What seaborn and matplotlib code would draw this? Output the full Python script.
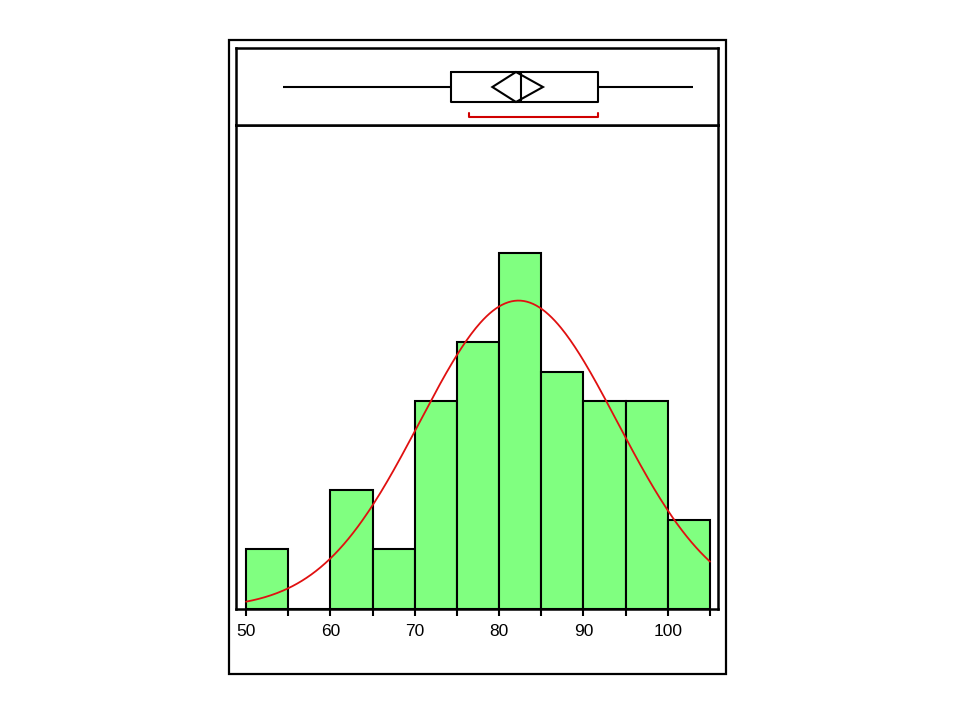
import numpy as np
import pandas as pd
import matplotlib
matplotlib.use("Agg")
import matplotlib.pyplot as plt
from matplotlib.patches import Rectangle, Polygon
import seaborn as sns

# ---- data ----
bin_edges = [50, 55, 60, 65, 70, 75, 80, 85, 90, 95, 100, 105]
bin_counts = [2, 0, 4, 2, 7, 9, 12, 8, 7, 7, 3]
tick_major = [50, 60, 70, 80, 90, 100]
tick_minor = [55, 65, 75, 85, 95, 105]

# five-number summary for the outlier box plot (min, q1, median, q3, max)
box_summary = [54.4, 74.3, 82.6, 91.7, 103.0]
mean_value = 82.0
mean_ci = [79.2, 85.2]
shortest_half = [76.4, 91.7]

# fitted normal curve parameters
fit_mean = 82.3
fit_sd = 11.7
n_obs = sum(bin_counts)
bin_width = 5

sns.set_style("white")
plt.rcParams["font.family"] = ["Liberation Sans", "DejaVu Sans"]

fig = plt.figure(figsize=(9.6, 7.2), dpi=100)

L, R = 236, 718
ax_h = fig.add_axes([L / 960, 1 - 608.5 / 720, (R - L) / 960, (608.5 - 125) / 720])
ax_b = fig.add_axes([L / 960, 1 - 125 / 720, (R - L) / 960, (125 - 48) / 720], sharex=ax_h)

# ---- histogram ----
mids = [(a + b) / 2 for a, b in zip(bin_edges[:-1], bin_edges[1:])]
df = pd.DataFrame({"x": mids, "w": bin_counts})
sns.histplot(data=df, x="x", weights="w", bins=bin_edges, color="#80FF80",
             alpha=1, edgecolor="black", linewidth=1.5, ax=ax_h)

xs = np.linspace(bin_edges[0], bin_edges[-1], 300)
ys = n_obs * bin_width / (fit_sd * np.sqrt(2 * np.pi)) * np.exp(-0.5 * ((xs - fit_mean) / fit_sd) ** 2)
sns.lineplot(x=xs, y=ys, color="#E01010", linewidth=1.3, ax=ax_h)

ax_h.set_xlim(48.81, 105.95)
ax_h.set_ylim(0, 16.33)
ax_h.set_xlabel("")
ax_h.set_ylabel("")
ax_h.set_yticks([])
ax_h.set_xticks(tick_major)
ax_h.set_xticks(tick_minor, minor=True)
ax_h.set_xticklabels([str(t) for t in tick_major], fontsize=12.5, color="black")
ax_h.tick_params(axis="x", which="both", direction="out", length=5, width=1.5,
                 color="black", pad=6, bottom=True, labelcolor="black")
for s in ax_h.spines.values():
    s.set_linewidth(1.8)
    s.set_color("black")

# ---- box plot ----
sns.boxplot(x=box_summary, whis=(0, 100), width=0.8, showcaps=False, fill=False,
            color="black", linewidth=1.5, ax=ax_b,
            flierprops=dict(marker=""))
dia = Polygon([(mean_ci[0], 0), (mean_value, -0.4), (mean_ci[1], 0), (mean_value, 0.4)],
              closed=True, fill=False, edgecolor="black", linewidth=1.5)
ax_b.add_patch(dia)
ax_b.plot([shortest_half[0], shortest_half[0], shortest_half[1], shortest_half[1]],
          [0.69, 0.8, 0.8, 0.69], color="#D00000", linewidth=1.5)
ax_b.set_ylim(1.013, -1.04)
ax_b.set_yticks([])
ax_b.tick_params(axis="x", which="both", bottom=False, labelbottom=False)
for s in ax_b.spines.values():
    s.set_linewidth(1.8)
    s.set_color("black")

# outer frame
fig.patches.append(Rectangle((229 / 960, 1 - 674 / 720), 497 / 960, 634 / 720,
                             transform=fig.transFigure, fill=False,
                             edgecolor="black", linewidth=1.6))

fig.savefig("out.png", dpi=100)
